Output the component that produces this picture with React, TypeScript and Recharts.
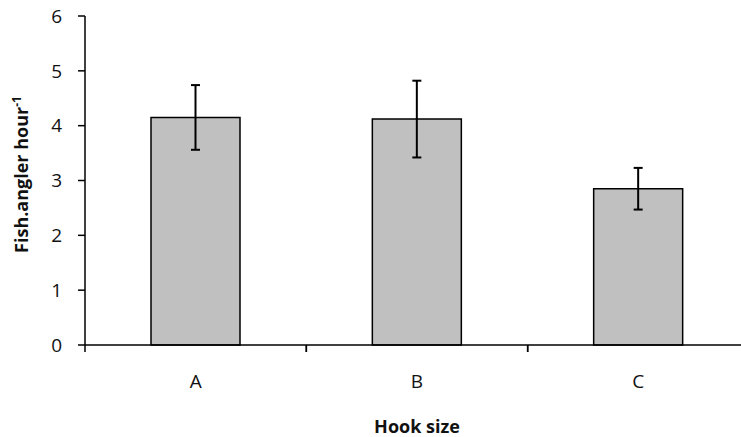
import { BarChart, Bar, XAxis, YAxis, ErrorBar } from 'recharts'

// mean catch per angler-hour by hook size, with standard error
const hookSizes = ['A', 'B', 'C']
const catchRate = [4.15, 4.12, 2.85]
const catchError = [0.59, 0.7, 0.38]
const yTicks = [0, 1, 2, 3, 4, 5, 6]

const data = hookSizes.map((size, i) => ({ size, rate: catchRate[i], err: catchError[i] }))

const FONT = '"Open Sans", "Noto Sans", sans-serif'
const INK = '#111'

function HookTick(props: any) {
  const { x, y, payload } = props
  const half = payload.offset || 110.7
  return (
    <g>
      <line x1={x - half} y1={y} x2={x - half} y2={y + 7} stroke="#000" strokeWidth={1.5} />
      <line x1={x + half} y1={y} x2={x + half} y2={y + 7} stroke="#000" strokeWidth={1.5} />
      <text x={x} y={y + 43} textAnchor="middle" fontFamily={FONT} fontSize={19} fill={INK}>
        {payload.value}
      </text>
    </g>
  )
}

function XTitle(props: any) {
  const { x, y, width } = props.viewBox
  return (
    <text x={x + width / 2} y={y + 88} textAnchor="middle" fontFamily={FONT} fontSize={18} fontWeight="bold" fill={INK}>
      Hook size
    </text>
  )
}

function YTitle(props: any) {
  const { y, height } = props.viewBox
  const cx = 28
  const cy = y + height / 2 - 6
  return (
    <text
      x={cx}
      y={cy}
      transform={`rotate(-90 ${cx} ${cy})`}
      textAnchor="middle"
      fontFamily={FONT}
      fontSize={18}
      fontWeight="bold"
      fill={INK}
    >
      Fish.angler hour
      <tspan fontSize={12} dy={-7}>-1</tspan>
    </text>
  )
}

export default function App() {
  return (
    <div style={{ position: 'absolute', left: 0, top: 0, width: 741, height: 437, overflow: 'hidden', background: '#fff' }}>
      <BarChart width={760} height={437} data={data} margin={{ top: 16, right: 11, bottom: 0, left: 0 }}>
        <XAxis
          dataKey="size"
          height={92}
          axisLine={{ stroke: '#000', strokeWidth: 1.5 }}
          tickLine={false}
          tickSize={0}
          tickMargin={0}
          tick={<HookTick />}
          interval={0}
          label={{ content: <XTitle /> }}
        />
        <YAxis
          width={85}
          domain={[0, 6]}
          ticks={yTicks}
          interval={0}
          tickSize={7}
          tickMargin={16}
          axisLine={{ stroke: '#000', strokeWidth: 1.5 }}
          tickLine={{ stroke: '#000', strokeWidth: 1.5 }}
          tick={{ fontFamily: FONT, fontSize: 19, fill: INK }}
          label={{ content: <YTitle /> }}
        />
        <Bar dataKey="rate" fill="#c0c0c0" stroke="#000" strokeWidth={1.5} barSize={89} isAnimationActive={false}>
          <ErrorBar dataKey="err" direction="y" width={4.5} stroke="#000" strokeWidth={2} isAnimationActive={false} />
        </Bar>
      </BarChart>
    </div>
  )
}
